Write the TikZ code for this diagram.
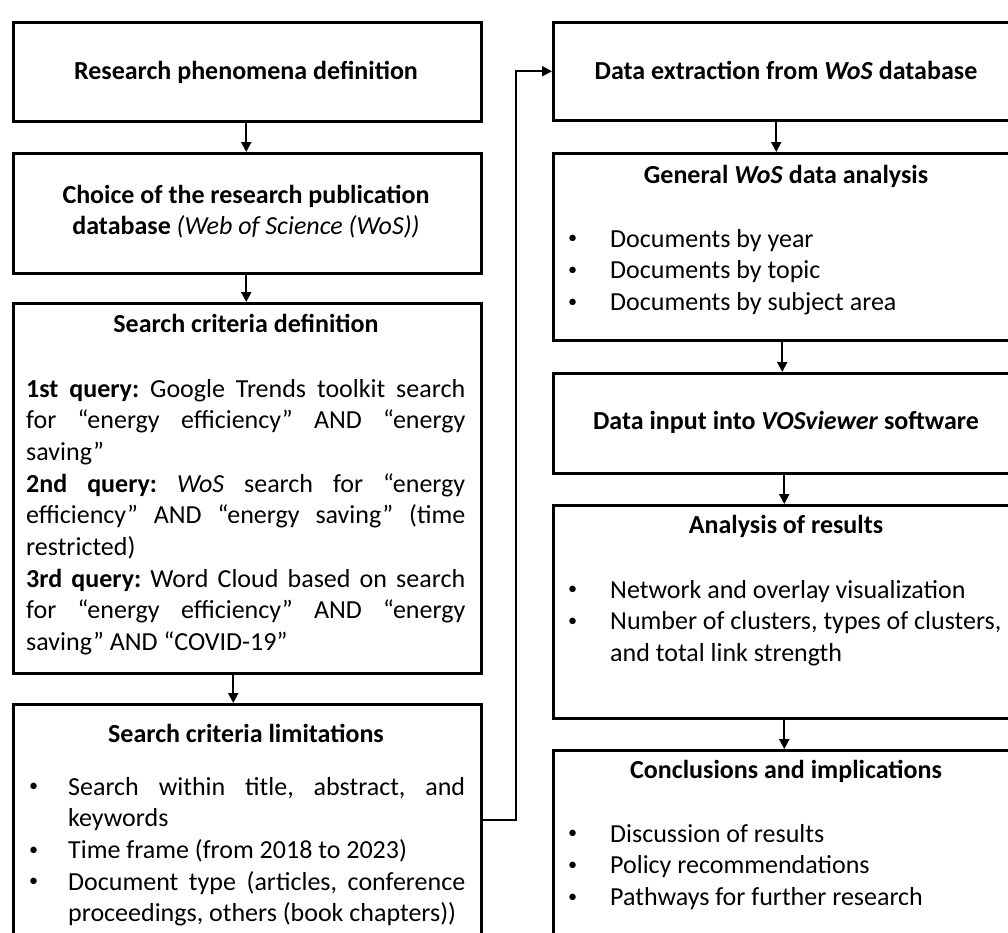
\documentclass[tikz,border=0pt]{standalone}
\usepackage{fontspec}
\setmainfont{Carlito}
\usetikzlibrary{arrows.meta,calc}
\frenchspacing
\tikzset{
  box/.style={draw, line width=2.5pt, rectangle, minimum width=468pt, inner sep=0pt, anchor=north west},
  arr/.style={line width=2pt, -{Triangle[length=10pt,width=10pt]}},
  ttl/.style={anchor=base, inner sep=0pt, font=\fontsize{26}{31.7}\selectfont\bfseries},
  body/.style={anchor=base west, inner sep=0pt, font=\fontsize{26}{31.7}\selectfont\frenchspacing}
}
\newcommand{\blt}[1]{\makebox[#1][l]{\hspace{3pt}\raisebox{0.12em}{\scalebox{0.7}{•}}}}
\begin{document}
\begin{tikzpicture}[x=1pt,y=-1pt]
\useasboundingbox (0,0) rectangle (1008,932);
\fill[white] (0,0) rectangle (1008,932);
\clip (0,0) rectangle (1008,932);

% left column boxes
\node[box, minimum height=99pt]  (L1) at (12,21) {};
\node[box, minimum height=120pt] (L2) at (12,152) {};
\node[box, minimum height=370pt] (L3) at (12,302) {};
\node[box, minimum height=300pt] (L4) at (12,703) {};
% right column boxes
\node[box, minimum height=98pt]  (R1) at (552,21) {};
\node[box, minimum height=187pt] (R2) at (552,152) {};
\node[box, minimum height=100pt] (R3) at (552,372) {};
\node[box, minimum height=213pt] (R4) at (552,504) {};
\node[box, minimum height=250pt] (R5) at (552,749) {};

% titles
\node[ttl] (L1t) at (246,79) {Research phenomena definition};
\node[ttl] (L2t) at (246,203) {\parbox[t]{460pt}{\centering Choice of the research publication\\ database \textmd{\textit{(Web of Science (WoS))}}}};
\node[ttl] (L3t) at (246,332) {Search criteria definition};
\node[ttl] (L4t) at (246,742) {Search criteria limitations};
\node[ttl] (R1t) at (786,79) {Data extraction from \textit{WoS} database};
\node[ttl] (R2t) at (786,183) {General \textit{WoS} data analysis};
\node[ttl] (R3t) at (786,429) {Data input into \textit{VOSviewer} software};
\node[ttl] (R4t) at (786,533) {Analysis of results};
\node[ttl] (R5t) at (786,778) {Conclusions and implications};

% bodies
\node[body] (L3b) at (26,397) {\parbox[t]{439pt}{%
\makebox[\linewidth][s]{\textbf{1st query:} Google Trends toolkit search}\\
\makebox[\linewidth][s]{for “energy efficiency” AND “energy}\\
saving”\\
\makebox[\linewidth][s]{\textbf{2nd query:} \textit{WoS} search for “energy}\\
\makebox[\linewidth][s]{efficiency” AND “energy saving” (time}\\
restricted)\\
\makebox[\linewidth][s]{\textbf{3rd query:} Word Cloud based on search}\\
\makebox[\linewidth][s]{for “energy efficiency” AND “energy}\\
saving” AND “COVID-19”}};

\node[body] (L4b) at (26,795) {\parbox[t]{439pt}{%
\blt{42pt}\makebox[397pt][s]{Search within title, abstract, and}\\
\hspace*{42pt}keywords\\
\blt{42pt}Time frame (from 2018 to 2023)\\
\blt{42pt}\makebox[397pt][s]{Document type (articles, conference}\\
\hspace*{42pt}proceedings, others (book chapters))}};

\node[body] (R2b) at (565,247) {\parbox[t]{450pt}{%
\blt{45pt}Documents by year\\
\blt{45pt}Documents by topic\\
\blt{45pt}Documents by subject area}};

\node[body] (R4b) at (565,598) {\parbox[t]{450pt}{%
\blt{45pt}Network and overlay visualization\\
\blt{45pt}Number of clusters, types of clusters,\\
\hspace*{45pt}and total link strength}};

\node[body] (R5b) at (565,842) {\parbox[t]{450pt}{%
\blt{45pt}Discussion of results\\
\blt{45pt}Policy recommendations\\
\blt{45pt}Pathways for further research}};

% connectors
\draw[arr] ([xshift=-1pt]L1.south) -- ([xshift=-1pt]L2.north);
\draw[arr] ([xshift=-1pt]L2.south) -- ([xshift=-1pt]L3.north);
\draw[arr] ([xshift=-14pt]L3.south) -- ([xshift=-14pt]L4.north);
\draw[arr] ([xshift=-11pt]R1.south) -- ([xshift=-11pt]R2.north);
\draw[arr] ([xshift=-5pt]R2.south) -- ([xshift=-5pt]R3.north);
\draw[arr] ([xshift=-3pt]R3.south) -- ([xshift=-3pt]R4.north);
\draw[arr] ([xshift=-3pt]R4.south) -- ([xshift=-3pt]R5.north);
\coordinate (c1) at (516,820);
\draw[arr] (L4.east |- c1) -- (c1) -- (c1 |- R1.west) -- (R1.west);
\end{tikzpicture}
\end{document}
